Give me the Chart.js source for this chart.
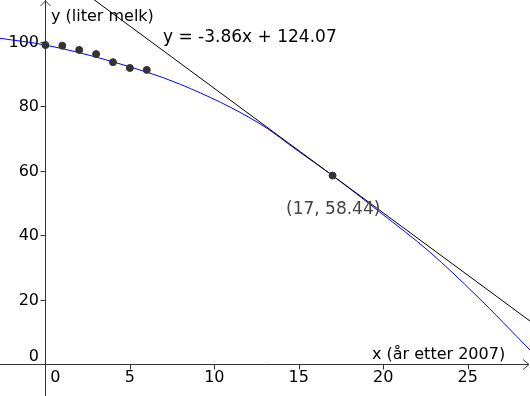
<!DOCTYPE html>
<html>
<head>
<meta charset="utf-8">
<script src="https://cdn.jsdelivr.net/npm/chart.js@4/dist/chart.umd.min.js"></script>
<style>
  html, body { margin: 0; padding: 0; background: #fff; }
  #wrap { width: 530px; height: 396px; }
</style>
</head>
<body>
<div id="wrap"><canvas id="graph" width="530" height="396"></canvas></div>
<script>
// measured milk volumes, years after 2007
const yearsX = [0, 1, 2, 3, 4, 5, 6];
const litres = [98.9, 98.7, 97.4, 96.1, 93.6, 91.8, 91.2];

// the model curve
const curveX = [-2.7, 0, 4, 8, 12.7, 15, 17, 19.8, 22.76, 25.5, 28.7];
const curveY = [101.0, 98.9, 93.7, 86.7, 74.5, 65.9, 58.44, 47.1, 34.7, 21.3, 4.3];

// tangent y = -3.86x + 124.07, two ends past the view
const tangentX = [-3, 29];
const tangentY = [135.65, 12.13];
const touchPoint = [17, 58.44];

const xTicks = [0, 5, 10, 15, 20, 25];
const yTicks = [0, 20, 40, 60, 80, 100];

const toXY = (xs, ys) => xs.map((x, i) => ({ x: x, y: ys[i] }));

const FONT = "'DejaVu Sans', sans-serif";

const axesPlugin = {
    id: "axesPlugin",
    beforeDatasetsDraw(chart) {
        const { ctx, scales } = chart;
        const sx = scales.x, sy = scales.y;
        const x0 = Math.round(sx.getPixelForValue(0)) + 0.5;
        const y0 = Math.round(sy.getPixelForValue(0)) + 0.5;
        ctx.save();
        ctx.strokeStyle = "#333";
        ctx.lineWidth = 1;

        // axis lines
        ctx.beginPath();
        ctx.moveTo(0, y0); ctx.lineTo(529, y0);
        ctx.moveTo(x0, 396); ctx.lineTo(x0, 0);
        ctx.stroke();

        // arrows
        ctx.beginPath();
        ctx.moveTo(523, y0 - 5); ctx.lineTo(529, y0); ctx.lineTo(523, y0 + 5);
        ctx.moveTo(x0 - 5, 6); ctx.lineTo(x0, 1); ctx.lineTo(x0 + 5, 6);
        ctx.stroke();

        // tick marks
        ctx.beginPath();
        xTicks.forEach(v => {
            if (v === 0) return;
            const px = Math.round(sx.getPixelForValue(v)) + 0.5;
            ctx.moveTo(px, y0); ctx.lineTo(px, y0 + 5);
        });
        yTicks.forEach(v => {
            if (v === 0) return;
            const py = Math.round(sy.getPixelForValue(v)) + 0.5;
            ctx.moveTo(x0 - 5, py); ctx.lineTo(x0, py);
        });
        ctx.stroke();

        // tick labels
        ctx.fillStyle = "#000";
        ctx.font = "16px " + FONT;
        ctx.textBaseline = "alphabetic";
        ctx.textAlign = "center";
        xTicks.forEach(v => {
            let px = sx.getPixelForValue(v);
            if (v === 0) px += 10;
            ctx.fillText(String(v), px, 382);
        });
        ctx.textAlign = "right";
        yTicks.forEach(v => {
            const py = sy.getPixelForValue(v);
            if (v === 0) {
                ctx.fillText("0", 39, 361);
            } else {
                ctx.textBaseline = "middle";
                ctx.fillText(String(v), 39, py + 1);
                ctx.textBaseline = "alphabetic";
            }
        });

        // axis names
        ctx.textAlign = "left";
        ctx.font = "16px " + FONT;
        ctx.fillText("y (liter melk)", 51, 21);
        ctx.fillText("x (år etter 2007)", 372, 359);
        ctx.restore();
    },
    afterDatasetsDraw(chart) {
        const { ctx } = chart;
        ctx.save();
        ctx.font = "17px " + FONT;
        ctx.textAlign = "left";
        ctx.textBaseline = "alphabetic";
        ctx.fillStyle = "#000";
        ctx.fillText("y = -3.86x + 124.07", 163, 42);
        ctx.fillStyle = "#444";
        ctx.fillText("(" + touchPoint[0] + ", " + touchPoint[1] + ")", 286, 214);
        ctx.restore();
    }
};

new Chart(document.getElementById("graph").getContext("2d"), {
    type: "scatter",
    data: {
        datasets: [
            {
                data: toXY(yearsX, litres),
                pointRadius: 3.5,
                pointBackgroundColor: "#333",
                pointBorderColor: "#333",
                showLine: false,
                order: 0
            },
            {
                data: [{ x: touchPoint[0], y: touchPoint[1] }],
                pointRadius: 3.5,
                pointBackgroundColor: "#333",
                pointBorderColor: "#333",
                showLine: false,
                order: 0
            },
            {
                data: toXY(curveX, curveY),
                showLine: true,
                borderColor: "#0000ff",
                borderWidth: 1,
                pointRadius: 0,
                cubicInterpolationMode: "monotone",
                order: 2
            },
            {
                data: toXY(tangentX, tangentY),
                showLine: true,
                borderColor: "#000",
                borderWidth: 1,
                pointRadius: 0,
                order: 1
            }
        ]
    },
    options: {
        responsive: false,
        animation: false,
        events: [],
        layout: { padding: 0, autoPadding: false },
        plugins: {
            legend: { display: false },
            tooltip: { enabled: false }
        },
        scales: {
            x: { type: "linear", min: -2.69, max: 28.69, display: false },
            y: { type: "linear", min: -9.92, max: 112.87, display: false }
        }
    },
    plugins: [axesPlugin]
});
</script>
</body>
</html>
